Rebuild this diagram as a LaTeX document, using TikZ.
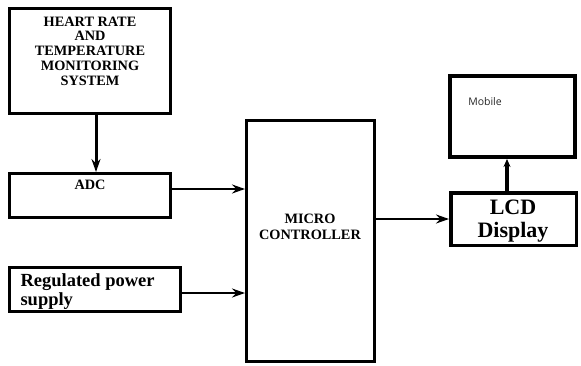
\documentclass[tikz,border=0pt]{standalone}
\usepackage{fontspec}
\setmainfont{Liberation Serif}
\newfontfamily\mobfont{Open Sans}
\usetikzlibrary{arrows.meta}
\tikzset{blk/.style={draw,line width=3pt,inner sep=0pt}}

\begin{document}
\begin{tikzpicture}[x=1pt,y=-1pt,>={Stealth[length=13pt,width=9pt]}]
\useasboundingbox (0,0) rectangle (581,365);
\node[blk,minimum width=161pt,minimum height=105pt] (hr) at (90,61) {};
\node[blk,minimum width=161pt,minimum height=44pt] (adc) at (90,195.5) {};
\node[blk,minimum width=171pt,minimum height=44pt] (rps) at (95,289.5) {};
\node[blk,minimum width=128pt,minimum height=241pt] (mc) at (310.5,241) {};
\node[blk,line width=4pt,minimum width=125pt,minimum height=81pt] (mob) at (512.5,116.5) {};
\node[blk,line width=3.5pt,minimum width=125.5pt,minimum height=52.5pt] (lcd) at (513.5,219) {};
\node[align=center,font=\bfseries\fontsize{14.3}{14.7}\selectfont] (hrtxt) at (90,51) {HEART RATE\\AND\\TEMPERATURE\\MONITORING\\SYSTEM};
\node[font=\bfseries\fontsize{14.3}{14.7}\selectfont] (adctxt) at (90,185) {ADC};
\node[align=left,anchor=west,font=\bfseries\fontsize{18.5}{19}\selectfont] (rpstxt) at (17,291.5) {Regulated power\\supply};
\node[align=center,font=\bfseries\fontsize{14.3}{16}\selectfont] (mctxt) at (310,227) {MICRO\\CONTROLLER};
\node[font=\mobfont\fontsize{10.5}{12}\selectfont,text=black!85] (mobtxt) at (485,102) {Mobile};
\node[align=center,font=\bfseries\fontsize{22}{23}\selectfont] (lcdtxt) at (513,221) {LCD\\Display};
\coordinate (h1) at ([xshift=6pt]hr.south);
\coordinate (a1) at ([yshift=6.5pt]adc.east);
\coordinate (r1) at ([yshift=-3.5pt]rps.east);
\coordinate (l1) at ([xshift=-6.5pt]lcd.north);
\draw[->,line width=3pt] (h1) -- (h1 |- adc.north);
\draw[->,line width=2.5pt] (a1) -- (a1 -| mc.west);
\draw[->,line width=2.5pt] (r1) -- (r1 -| mc.west);
\draw[->,line width=2.5pt] (lcd.west -| mc.east) -- (lcd.west);
\draw[->,line width=4pt,>={Stealth[length=8pt,width=7pt]}] (l1) -- (l1 |- mob.south);
\end{tikzpicture}
\end{document}
